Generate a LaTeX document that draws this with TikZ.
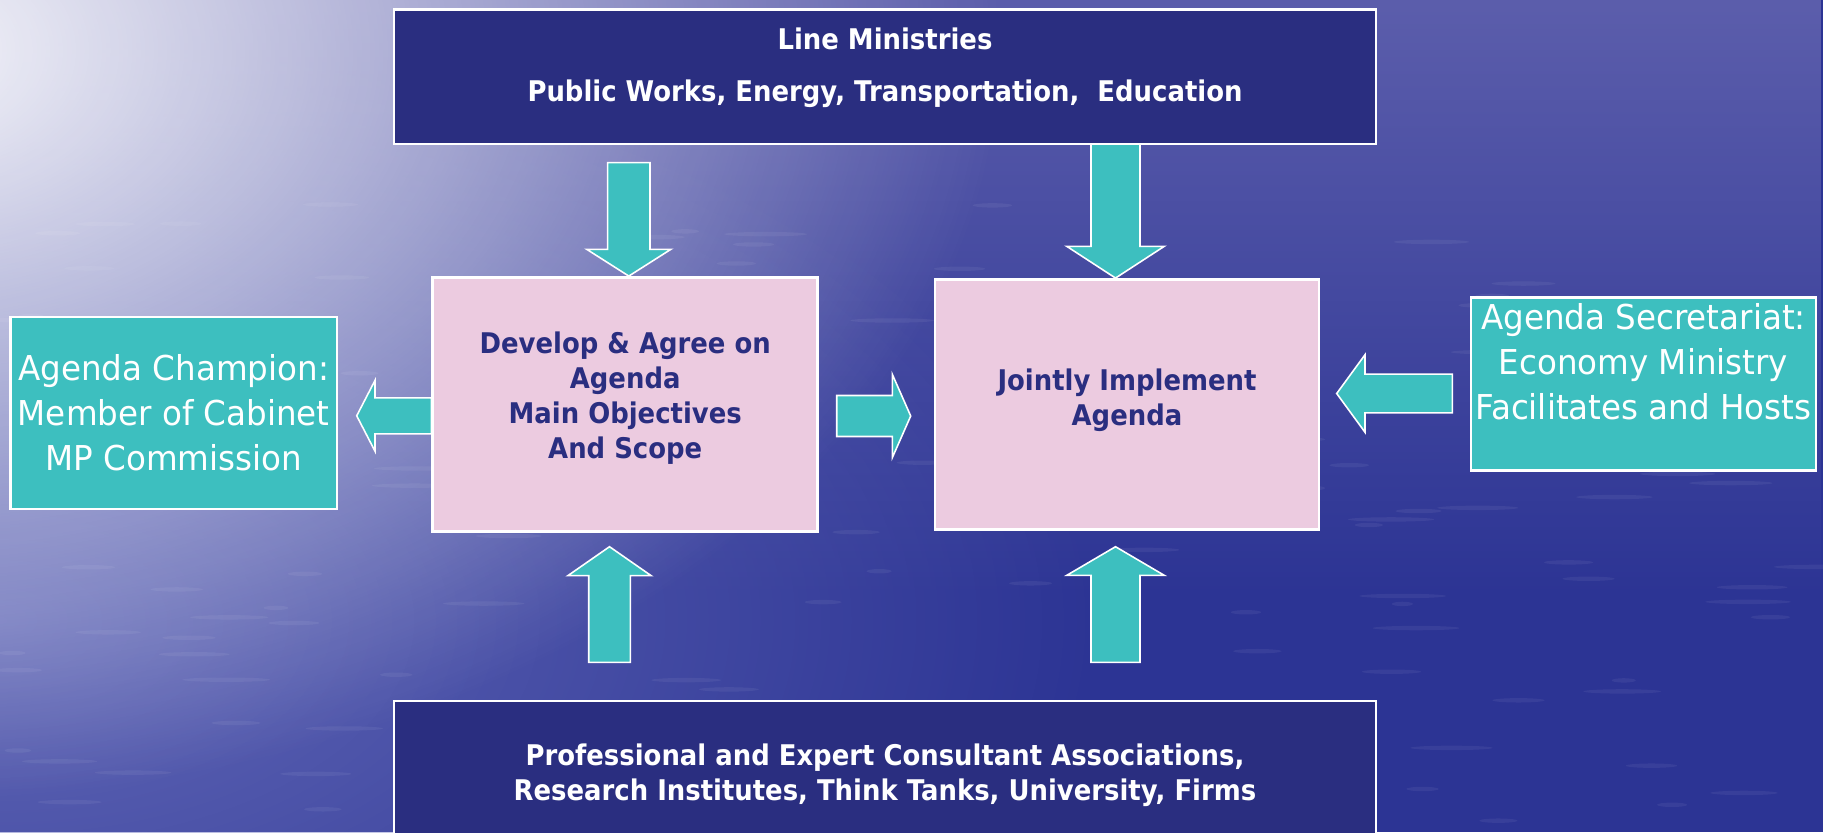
\documentclass[tikz,border=0pt]{standalone}
\usepackage{fontspec}
\newfontfamily\boxfont{DejaVu Sans}[FakeStretch=0.91]
\newfontfamily\tealfont{DejaVu Sans}[FakeStretch=0.95]
\usetikzlibrary{calc,positioning,fadings}

\definecolor{navybox}{RGB}{42,46,128}
\definecolor{pinkbox}{RGB}{236,203,224}
\definecolor{tealbox}{RGB}{61,191,191}
\definecolor{seadeep}{RGB}{44,52,148}
\definecolor{seamid}{RGB}{92,94,172}
\definecolor{sealight}{RGB}{112,118,192}

\tikzfading[name=seaglow, inner color=transparent!0, outer color=transparent!100]

% text block of fixed size: width, height, space above, lines
\newcommand{\boxtext}[4]{\parbox[c][#2][t]{#1}{\centering\vspace*{#3}#4}}

\begin{document}
\begin{tikzpicture}[x=1mm,y=-1mm,
    every node/.style={inner sep=0pt},
    darkbox/.style={draw=white,line width=0.7pt,fill=navybox,text=white,
      font={\boxfont\bfseries\fontsize{8.1}{9.96}\selectfont}},
    pinkstep/.style={draw=white,line width=0.7pt,fill=pinkbox,text=navybox,
      font={\boxfont\bfseries\fontsize{8.1}{9.96}\selectfont}},
    tealrole/.style={draw=white,line width=0.7pt,fill=tealbox,text=white,
      font={\tealfont\fontsize{9.75}{12.8}\selectfont}},
    blockarrow/.style n args={3}{draw=white,line width=0.45pt,fill=tealbox,
      to path={let \p1=($(\tikztotarget)!#3!(\tikztostart)$) in
        ($(\tikztostart)!#1!90:(\tikztotarget)$) -- ($(\p1)!#1!-90:(\tikztostart)$)
        -- ($(\p1)!#2!-90:(\tikztostart)$) -- (\tikztotarget)
        -- ($(\p1)!#2!90:(\tikztostart)$) -- ($(\p1)!#1!90:(\tikztostart)$)
        -- ($(\tikztostart)!#1!-90:(\tikztotarget)$) -- cycle}}]

  % sea background
  \useasboundingbox (0,0) rectangle (182.3,83.2);
  \fill[seadeep] (0,0) rectangle (182.3,83.2);
  \fill[seamid,path fading=south] (0,0) rectangle (182.3,60);
  \fill[sealight,path fading=seaglow,opacity=0.8] (0,62) ellipse (110 and 60);
  \fill[white,path fading=seaglow,opacity=0.95] (-10,5) ellipse (110 and 75);
  \pgfmathsetseed{7}
  \foreach \k in {1,...,120}
    \fill[white,opacity=0.06] ({rnd*182},{20+rnd*63}) ellipse ({1+rnd*3.5} and 0.22);

  % boxes
  \node[darkbox] (lmin) at (88.5,7.67)
    {\boxtext{98.2mm}{13.47mm}{1.9mm}{Line Ministries\\[4.74pt]Public Works, Energy, Transportation,~ Education}};
  \node[pinkstep] (ldev) at (62.52,40.45)
    {\boxtext{38.5mm}{25.44mm}{5.43mm}{Develop \& Agree on\\Agenda\\Main Objectives\\And Scope}};
  \node[pinkstep,right=11.46mm of ldev] (ljoin)
    {\boxtext{38.44mm}{25.04mm}{8.93mm}{Jointly Implement\\Agenda}};
  \node[tealrole] (champ) at (17.38,41.29)
    {\boxtext{32.65mm}{19.23mm}{3.82mm}{Agenda Champion:\\Member of Cabinet\\MP Commission}};
  \node[tealrole] (secr) at (164.34,38.42)
    {\boxtext{34.53mm}{17.3mm}{0.62mm}{Agenda Secretariat:\\Economy Ministry\\Facilitates and Hosts}};
  \node[darkbox] (expert) at (88.5,77.5)
    {\boxtext{98.2mm}{14.8mm}{4.33mm}{Professional and Expert Consultant Associations,\\Research Institutes, Think Tanks, University, Firms}};

  % free ends of the block arrows
  \coordinate (d1) at (62.88,16.27);
  \coordinate (d2) at (111.55,14.4);
  \coordinate (c1) at ($(ldev.west)+(0,1.13)$);
  \coordinate (c2) at (35.67,41.58);
  \coordinate (m1) at (83.67,41.6);
  \coordinate (m2) at (91.07,41.6);
  \coordinate (s1) at (145.23,39.35);
  \coordinate (s2) at (133.67,39.35);
  \coordinate (u1) at (60.95,66.23);
  \coordinate (u1t) at (60.95,54.67);
  \coordinate (u2) at (111.55,66.23);
  \coordinate (u2t) at (111.55,54.67);

  \path
    (d1) edge[blockarrow={2.12mm}{4.2mm}{2.67mm}] (d1 |- ldev.north)
    (d2) edge[blockarrow={2.45mm}{4.87mm}{3.17mm}] (d2 |- ljoin.north)
    (c1) edge[blockarrow={1.8mm}{3.54mm}{1.83mm}] (c2)
    (m1) edge[blockarrow={2.05mm}{4.17mm}{1.84mm}] (m2)
    (s1) edge[blockarrow={1.93mm}{3.88mm}{2.83mm}] (s2)
    (u1) edge[blockarrow={2.08mm}{4.17mm}{2.9mm}] (u1t)
    (u2) edge[blockarrow={2.45mm}{4.87mm}{2.86mm}] (u2t);
\end{tikzpicture}
\end{document}
